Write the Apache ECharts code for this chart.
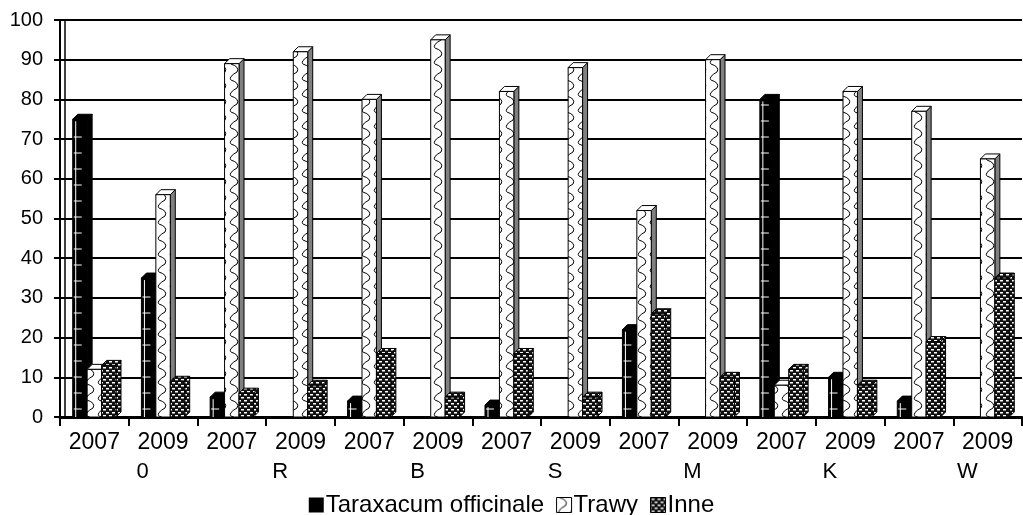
<!DOCTYPE html>
<html>
<head>
<meta charset="utf-8">
<style>
  html, body { margin: 0; padding: 0; background: #fff; }
  #chart { width: 1023px; height: 515px; }
</style>
<script src="https://cdn.jsdelivr.net/npm/echarts@6/dist/echarts.min.js"></script>
</head>
<body>
<div id="chart"></div>
<script>
// data
var years = ['2007', '2009', '2007', '2009', '2007', '2009', '2007', '2009', '2007', '2009', '2007', '2009', '2007', '2009']
var groups = ['0', 'R', 'B', 'S', 'M', 'K', 'W']
var seriesNames = ['Taraxacum officinale', 'Trawy', 'Inne']
var taraxacum = [75, 35, 5, 0, 4, 0, 3, 0, 22, 0, 80, 10, 4, 0]
var trawy = [12, 56, 89, 92, 80, 95, 82, 88, 52, 90, 8, 82, 77, 65]
var inne = [13, 9, 6, 8, 16, 5, 16, 5, 26, 10, 12, 8, 19, 35]
var yTicks = { min: 0, max: 100, interval: 10 }

var FONT = '"Liberation Sans", Arial, sans-serif'

function makePattern(w, h, draw) {
  var c = document.createElement('canvas')
  c.width = w
  c.height = h
  draw(c.getContext('2d'))
  return { image: c, repeat: 'repeat' }
}

// wavy chain pattern of "Trawy"
var trawyPat = makePattern(12, 16, function(ctx) {
  ctx.fillStyle = '#fff'
  ctx.fillRect(0, 0, 12, 16)
  ctx.strokeStyle = '#000'
  ctx.lineWidth = 1
  ctx.beginPath()
  ctx.moveTo(3, 0)
  ctx.quadraticCurveTo(12, 3, 9, 8)
  ctx.quadraticCurveTo(0, 13, 3, 16)
  ctx.stroke()
})
var trawySide = '#808080'

// dark brick/dot pattern of "Inne"
var innePat = makePattern(6, 6, function(ctx) {
  ctx.fillStyle = '#111'
  ctx.fillRect(0, 0, 6, 6)
  ctx.fillStyle = '#fff'
  ctx.fillRect(1, 1, 3, 1.5)
  ctx.fillRect(4, 4, 2, 1.5)
  ctx.fillRect(0, 4, 1, 1.5)
})

function box(s, fronts, sides, tops, ruler) {
  return function(params, api) {
    var v = api.value(1)
    if (!v) return null
    var base = api.coord([api.value(0), 0])
    var tip = api.coord([api.value(0), v])
    var band = api.size([1, 0])[0]
    var w = band * 0.21
    var d = 5
    var x0 = base[0] - 1.5 * w + s * w
    var x1 = x0 + w
    var y0 = tip[1]
    var y1 = base[1]
    var line = { stroke: '#000', lineWidth: 1 }
    var kids = [
      { type: 'polygon', shape: { points: [[x1, y1], [x1 + d, y1 - d], [x1 + d, y0 - d], [x1, y0]] },
        style: Object.assign({ fill: sides }, line) },
      { type: 'polygon', shape: { points: [[x0, y0], [x0 + d, y0 - d], [x1 + d, y0 - d], [x1, y0]] },
        style: Object.assign({ fill: tops }, line) },
      { type: 'rect', shape: { x: x0, y: y0, width: w, height: y1 - y0 },
        style: Object.assign({ fill: fronts }, line) }
    ]
    if (ruler) {
      kids.push({ type: 'line', shape: { x1: x0 + 3, y1: y0 + 2, x2: x0 + 3, y2: y1 },
        style: { stroke: '#fff', lineWidth: 1 } })
      for (var yy = y1 - 8; yy > y0 + 3; yy -= 16) {
        kids.push({ type: 'line', shape: { x1: x0 + 1, y1: yy, x2: x0 + 9, y2: yy },
          style: { stroke: '#fff', lineWidth: 1 } })
      }
    }
    return { type: 'group', children: kids }
  }
}

function pairs(arr) {
  return arr.map(function(v, i) { return [i, v] })
}

var chart = echarts.init(document.getElementById('chart'))
chart.setOption({
  animation: false,
  backgroundColor: '#fff',
  textStyle: { fontFamily: FONT, color: '#000' },
  grid: { left: 60, right: 1, top: 20, bottom: 98 },
  legend: {
    top: 488,
    left: 'center',
    itemWidth: 15,
    itemHeight: 15,
    itemGap: 12,
    textStyle: { fontSize: 24, fontFamily: FONT, color: '#000', padding: [0, 0, 0, -3] },
    data: [
      { name: seriesNames[0], icon: 'rect', itemStyle: { color: '#000' } },
      { name: seriesNames[1], icon: 'rect', itemStyle: { color: trawyPat, borderColor: '#000', borderWidth: 1 } },
      { name: seriesNames[2], icon: 'rect', itemStyle: { color: innePat, borderColor: '#000', borderWidth: 1 } }
    ]
  },
  xAxis: [
    {
      type: 'category',
      data: years,
      axisLine: { lineStyle: { color: '#000', width: 3 } },
      axisTick: { show: true, length: 9, lineStyle: { color: '#000', width: 2 } },
      axisLabel: { fontSize: 23, color: '#000', margin: 14, interval: 0, fontFamily: FONT }
    },
    {
      type: 'category',
      data: groups,
      position: 'bottom',
      offset: 36,
      axisLine: { show: false },
      axisTick: { show: false },
      axisLabel: { fontSize: 22, color: '#000', margin: 8, interval: 0, fontFamily: FONT, padding: [0, 0, 0, 28] }
    }
  ],
  yAxis: [
    {
      type: 'value',
      min: yTicks.min,
      max: yTicks.max,
      interval: yTicks.interval,
      axisLine: { show: true, lineStyle: { color: '#000', width: 2 } },
      axisTick: { show: true, length: 6, lineStyle: { color: '#000', width: 2 } },
      axisLabel: { fontSize: 20, color: '#000', margin: 17, fontFamily: FONT },
      splitLine: { show: true, lineStyle: { color: '#000', width: 2 } }
    },
    {
      type: 'value',
      position: 'left',
      offset: -5,
      min: yTicks.min,
      max: yTicks.max,
      interval: yTicks.interval,
      axisLine: { show: true, lineStyle: { color: '#000', width: 1.5 } },
      axisTick: { show: false },
      axisLabel: { show: false },
      splitLine: { show: false }
    }
  ],
  series: [
    {
      name: seriesNames[0],
      type: 'custom',
      itemStyle: { color: '#000' },
      encode: { x: 0, y: 1 },
      renderItem: box(0, '#000', '#000', '#000', true),
      data: pairs(taraxacum)
    },
    {
      name: seriesNames[1],
      type: 'custom',
      itemStyle: { color: trawyPat },
      encode: { x: 0, y: 1 },
      renderItem: box(1, trawyPat, trawySide, '#fff', false),
      data: pairs(trawy)
    },
    {
      name: seriesNames[2],
      type: 'custom',
      itemStyle: { color: innePat },
      encode: { x: 0, y: 1 },
      renderItem: box(2, innePat, innePat, innePat, false),
      data: pairs(inne)
    }
  ]
})
</script>
</body>
</html>
